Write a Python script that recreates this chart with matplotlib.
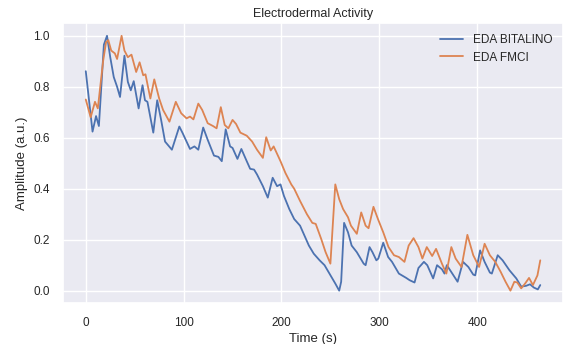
import matplotlib
matplotlib.use("Agg")
import matplotlib.pyplot as plt
import seaborn as sns

# EDA BITALINO
t_bit = [0, 6.9, 10.5, 13.4, 18.5, 21.7, 25, 28.6, 32, 35, 39.5, 43, 46, 49, 54, 58, 60.5, 63,
         69, 73, 77, 81, 88, 95.6, 99, 106.5, 111, 115, 120, 124.6, 131, 135.5, 139, 143, 147.5,
         150, 155, 159, 164.5, 168, 172, 175, 181, 186, 191, 195.5, 199, 202.5, 208, 213, 219,
         228, 233, 239, 244, 255, 259, 261, 264, 268, 271.7, 277, 284, 286, 290, 293, 297, 299,
         304, 309, 313, 320, 327.5, 331, 336, 340, 345.6, 349, 355, 359, 364, 366.6, 369, 374.6,
         380, 385.5, 391, 396, 398, 403, 407.6, 413, 415, 421, 426, 433, 440, 445, 450, 454, 458,
         462, 464.5]
eda_bit = [0.861, 0.624, 0.685, 0.646, 0.965, 1.0, 0.916, 0.838, 0.80, 0.76, 0.922, 0.819, 0.786,
           0.822, 0.715, 0.806, 0.747, 0.741, 0.62, 0.747, 0.67, 0.585, 0.553, 0.644, 0.618,
           0.556, 0.566, 0.553, 0.64, 0.592, 0.53, 0.525, 0.508, 0.633, 0.566, 0.56, 0.517, 0.556,
           0.508, 0.478, 0.475, 0.456, 0.41, 0.365, 0.443, 0.41, 0.417, 0.372, 0.32, 0.281, 0.255,
           0.177, 0.145, 0.119, 0.10, 0.028, 0.0, 0.035, 0.266, 0.229, 0.177, 0.151, 0.106, 0.10,
           0.171, 0.151, 0.119, 0.126, 0.188, 0.132, 0.113, 0.067, 0.05, 0.041, 0.032, 0.089,
           0.113, 0.10, 0.048, 0.10, 0.084, 0.067, 0.10, 0.067, 0.035, 0.113, 0.093, 0.063, 0.06,
           0.158, 0.113, 0.071, 0.067, 0.139, 0.119, 0.08, 0.048, 0.016, 0.019, 0.025, 0.012,
           0.005, 0.022]

# EDA FMCI
t_fmci = [0, 5, 9.4, 12.3, 17.8, 20.7, 23, 26, 29.7, 32, 36.6, 39.5, 43, 46.7, 51.5, 55, 58.7,
          61, 66, 70, 75, 79, 85.5, 92, 97.5, 103, 106.5, 110, 115, 119, 124.6, 130, 133.7, 138,
          142, 145.7, 150, 153.6, 158, 164.5, 170, 175, 181, 184.4, 189, 192, 199, 204, 210, 213,
          219, 226, 231.5, 235, 240.6, 245, 250, 255, 259, 263, 268, 271, 277, 281.5, 286, 289,
          294, 298.6, 304, 309.4, 315, 320, 325.7, 330, 335, 340, 344, 348.5, 354, 358, 364,
          368.5, 373.6, 378, 384, 390, 396, 402, 407.6, 413, 418.5, 424, 429, 434, 438, 441, 445,
          449, 453, 457, 461.6, 464.5]
eda_fmci = [0.75, 0.68, 0.741, 0.715, 0.903, 0.974, 0.983, 0.942, 0.931, 0.909, 1.0, 0.942,
            0.916, 0.926, 0.858, 0.896, 0.845, 0.849, 0.754, 0.829, 0.754, 0.709, 0.663, 0.741,
            0.696, 0.676, 0.683, 0.672, 0.734, 0.709, 0.657, 0.646, 0.637, 0.72, 0.65, 0.637,
            0.67, 0.654, 0.62, 0.608, 0.585, 0.553, 0.521, 0.602, 0.55, 0.566, 0.508, 0.462,
            0.417, 0.40, 0.352, 0.30, 0.266, 0.262, 0.203, 0.152, 0.106, 0.417, 0.359, 0.32,
            0.288, 0.255, 0.223, 0.307, 0.255, 0.245, 0.329, 0.281, 0.229, 0.171, 0.139, 0.132,
            0.113, 0.177, 0.206, 0.171, 0.126, 0.171, 0.136, 0.164, 0.106, 0.067, 0.171, 0.126,
            0.093, 0.219, 0.139, 0.093, 0.184, 0.139, 0.113, 0.074, 0.035, 0.0, 0.035, 0.032,
            0.009, 0.028, 0.05, 0.022, 0.06, 0.119]

sns.set_theme(style="darkgrid")
plt.rcParams['font.family'] = ['Liberation Sans', 'DejaVu Sans']

fig = plt.figure(figsize=(5.63, 3.44), dpi=100)
ax = fig.add_axes([0.112, 0.118, 0.888, 0.815])

ax.plot(t_bit, eda_bit, label="EDA BITALINO", lw=1.3)
ax.plot(t_fmci, eda_fmci, label="EDA FMCI", lw=1.3)

ax.set_title("Electrodermal Activity", fontsize=9, pad=4)
ax.set_xlabel("Time (s)", fontsize=9.5, labelpad=3)
ax.set_ylabel("Amplitude (a.u.)", fontsize=9.5)
ax.tick_params(labelsize=8.5)
ax.legend(loc="upper right", fontsize=8.5, frameon=False)

fig.savefig("out.png", dpi=100)
